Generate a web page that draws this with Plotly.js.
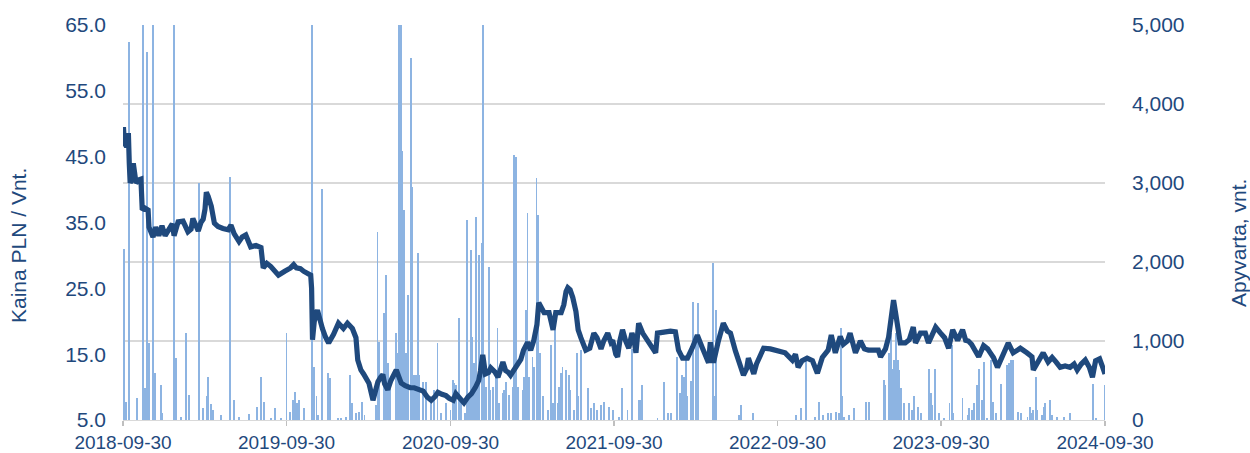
<!DOCTYPE html>
<html>
<head>
<meta charset="utf-8">
<script src="https://cdn.plot.ly/plotly-3.0.1.min.js"></script>
<style>
html,body{margin:0;padding:0;background:#fff;}
#chart{width:1250px;height:453px;}
</style>
</head>
<body>
<div id="chart"></div>
<script>
// ---- Price (left axis, PLN / Vnt.) ----
const priceDates = [
'2018-10-01','2018-10-03','2018-10-08','2018-10-12','2018-10-14','2018-10-16','2018-10-19','2018-10-23','2018-10-27','2018-10-29',
'2018-11-05','2018-11-09','2018-11-12','2018-11-18','2018-11-25','2018-11-27','2018-12-06','2018-12-12','2018-12-19','2018-12-26',
'2019-01-02','2019-01-11','2019-01-18','2019-01-22','2019-01-31','2019-02-11','2019-02-22','2019-03-01','2019-03-05','2019-03-12',
'2019-03-17','2019-03-23','2019-03-28','2019-04-01','2019-04-04','2019-04-08','2019-04-15','2019-04-22','2019-04-30','2019-05-11',
'2019-05-23','2019-05-29','2019-06-05','2019-06-16','2019-06-23','2019-07-01','2019-07-12','2019-07-24','2019-08-04','2019-08-09',
'2019-08-17','2019-08-26','2019-09-04','2019-09-12','2019-09-26','2019-10-09','2019-10-16','2019-10-22','2019-10-31','2019-11-07',
'2019-11-23','2019-11-25','2019-11-27','2019-12-01','2019-12-08','2019-12-12','2019-12-19','2019-12-26',
'2020-01-02','2020-01-13','2020-01-24','2020-02-04','2020-02-13','2020-02-24','2020-03-03','2020-03-07','2020-03-14','2020-03-20',
'2020-04-01','2020-04-10','2020-04-16','2020-04-21','2020-04-27','2020-05-02','2020-05-06','2020-05-13','2020-05-20','2020-05-26',
'2020-06-01','2020-06-07','2020-06-12','2020-06-21','2020-07-02','2020-07-11','2020-07-20','2020-07-31','2020-08-09','2020-08-18',
'2020-08-27','2020-09-02','2020-09-11','2020-09-20','2020-09-27','2020-10-06','2020-10-12','2020-10-21','2020-10-30','2020-11-08',
'2020-11-16','2020-11-25','2020-12-02','2020-12-06','2020-12-11','2020-12-17','2020-12-24','2020-12-29',
'2021-01-07','2021-01-14','2021-01-20','2021-01-25','2021-01-31','2021-02-05','2021-02-11','2021-02-18','2021-02-27','2021-03-06',
'2021-03-12','2021-03-21','2021-03-28','2021-04-04','2021-04-11','2021-04-15','2021-04-27','2021-05-08','2021-05-17','2021-05-23',
'2021-06-04','2021-06-10','2021-06-15','2021-06-19','2021-06-24','2021-06-30','2021-07-07','2021-07-12','2021-07-18','2021-07-25',
'2021-07-29','2021-08-07','2021-08-16','2021-08-23','2021-09-01','2021-09-07','2021-09-16','2021-09-23','2021-09-27','2021-10-04',
'2021-10-08','2021-10-13','2021-10-19','2021-10-26','2021-11-02','2021-11-09','2021-11-13','2021-11-18','2021-11-24','2021-12-03',
'2021-12-14','2021-12-23',
'2022-01-01','2022-01-05','2022-01-19','2022-02-03','2022-02-14','2022-02-21','2022-03-02','2022-03-13','2022-03-24','2022-04-04',
'2022-04-15','2022-04-29','2022-05-03','2022-05-10','2022-05-21','2022-06-01','2022-06-10','2022-06-17','2022-06-28','2022-07-09',
'2022-07-16','2022-07-23','2022-07-27','2022-08-03','2022-08-08','2022-08-14','2022-08-23','2022-08-30','2022-09-14','2022-09-30',
'2022-10-17','2022-11-02','2022-11-09','2022-11-15','2022-11-24','2022-12-05','2022-12-17','2022-12-28',
'2023-01-03','2023-01-08','2023-01-21','2023-01-28','2023-02-06','2023-02-17','2023-02-24','2023-03-05','2023-03-11','2023-03-23',
'2023-04-03','2023-04-12','2023-04-21','2023-04-30','2023-05-13','2023-05-18','2023-05-29','2023-06-05','2023-06-11','2023-06-16',
'2023-06-20','2023-06-25','2023-07-01','2023-07-12','2023-07-21','2023-07-30','2023-08-04','2023-08-15','2023-08-26','2023-09-02',
'2023-09-11','2023-09-18','2023-09-29','2023-10-08','2023-10-17','2023-10-26','2023-11-06','2023-11-17','2023-11-24','2023-11-30',
'2023-12-07','2023-12-16','2023-12-23',
'2024-01-03','2024-01-12','2024-01-18','2024-01-25','2024-02-03','2024-02-14','2024-02-27','2024-03-09','2024-03-25','2024-04-09',
'2024-04-20','2024-04-23','2024-05-04','2024-05-15','2024-05-26','2024-06-04','2024-06-13','2024-06-22','2024-07-03','2024-07-14',
'2024-07-23','2024-07-30','2024-08-08','2024-08-17','2024-08-26','2024-09-02','2024-09-09','2024-09-18','2024-09-25','2024-09-30'
];
const priceValues = [
49.5,47.1,46.5,48.6,44.0,41.0,41.5,44.0,42.0,41.0,
41.5,41.6,36.9,37.2,36.9,34.3,32.8,34.3,33.0,34.5,
33.0,34.0,34.8,33.0,35.1,35.2,33.6,34.0,35.6,34.5,
33.7,35.0,35.5,37.0,39.6,39.0,37.5,34.9,34.4,34.1,
33.9,34.6,33.3,32.1,32.8,33.1,31.3,31.5,31.2,28.1,
28.8,28.3,27.6,27.0,27.6,28.1,28.6,28.1,28.0,27.6,
27.0,25.0,17.2,20.0,21.7,20.5,18.9,17.6,
16.7,18.0,19.7,18.9,19.7,18.9,17.5,14.1,12.6,12.0,
10.6,8.0,9.5,10.8,11.5,11.9,10.5,9.6,11.0,12.0,
12.6,11.5,10.6,10.2,9.9,9.9,9.6,9.4,8.5,8.0,
8.6,9.2,8.9,8.7,8.3,8.0,9.0,8.2,7.6,8.5,
9.0,10.0,11.0,12.5,14.9,12.0,12.2,12.9,
12.3,11.5,12.8,13.8,12.5,12.3,11.8,12.5,13.4,14.2,
15.6,16.8,15.6,17.1,19.5,22.8,21.3,21.3,18.7,21.3,
21.3,22.5,24.5,25.1,24.8,23.6,21.5,18.7,17.5,16.0,
15.6,15.9,18.2,17.5,15.8,17.0,18.2,16.8,17.1,15.0,
14.6,17.0,18.7,17.0,15.9,18.2,17.5,15.2,19.7,18.2,
17.1,16.0,
15.2,18.2,18.4,18.5,18.4,15.6,14.4,14.4,16.0,17.9,
16.0,13.7,16.8,13.7,17.0,19.7,18.5,18.2,15.5,13.0,
11.8,12.8,14.4,13.0,12.0,13.5,14.9,15.9,15.8,15.6,
15.2,14.1,15.0,13.0,14.0,14.4,14.0,12.1,
13.5,14.5,15.6,17.9,15.2,17.7,16.5,17.0,18.2,15.2,
17.0,15.8,15.6,15.6,15.6,14.6,15.8,17.6,20.5,23.2,
21.5,18.7,16.7,16.7,17.2,19.1,16.7,18.2,18.2,16.7,
18.0,19.1,18.2,17.5,15.9,18.7,17.1,18.7,17.1,17.0,
16.5,15.6,14.6,
16.3,15.8,15.2,14.5,13.0,14.8,16.7,15.2,15.9,15.2,
14.6,12.6,14.0,15.2,13.8,14.5,13.8,13.0,13.2,13.0,
13.5,12.6,13.5,14.1,13.0,11.5,14.0,14.3,13.0,12.0
];

// ---- Turnover (right axis, vnt.) ----
const volumeDates = [
'2018-09-30','2018-10-02','2018-10-06','2018-10-14','2018-10-31','2018-11-13','2018-11-16','2018-11-18','2018-11-22','2018-11-23',
'2018-11-27','2018-12-06','2018-12-10','2018-12-23','2018-12-27',
'2019-01-21','2019-01-23','2019-01-26','2019-02-06','2019-02-17','2019-02-24','2019-03-18','2019-03-27','2019-04-05','2019-04-07',
'2019-04-14','2019-04-18','2019-05-07','2019-05-27','2019-05-28','2019-06-05','2019-06-16','2019-07-08','2019-07-27','2019-08-04',
'2019-08-10','2019-08-26','2019-09-04','2019-09-17','2019-09-30','2019-10-07','2019-10-14','2019-10-18','2019-10-24','2019-10-27',
'2019-11-08','2019-11-25','2019-11-27','2019-12-01','2019-12-06','2019-12-10','2019-12-17','2019-12-19',
'2020-01-01','2020-01-05','2020-01-23','2020-01-29','2020-02-10','2020-02-19','2020-02-23','2020-03-03','2020-03-09','2020-03-16',
'2020-03-22','2020-04-16','2020-04-20','2020-04-24','2020-05-04','2020-05-10','2020-05-14','2020-05-17','2020-05-31','2020-06-04',
'2020-06-07','2020-06-09','2020-06-11','2020-06-15','2020-06-19','2020-06-22','2020-06-28','2020-07-04','2020-07-06','2020-07-10',
'2020-07-15','2020-07-19','2020-07-22','2020-07-30','2020-08-06','2020-08-17','2020-08-25','2020-09-01','2020-09-08','2020-09-19',
'2020-09-30','2020-10-05','2020-10-08','2020-10-12','2020-10-19','2020-10-23','2020-11-01','2020-11-05','2020-11-10','2020-11-15',
'2020-11-18','2020-11-22','2020-11-26','2020-11-29','2020-12-03','2020-12-09','2020-12-12','2020-12-14','2020-12-18','2020-12-24',
'2020-12-27',
'2021-01-02','2021-01-09','2021-01-13','2021-01-16','2021-01-24','2021-01-28','2021-02-01','2021-02-08','2021-02-16','2021-02-19',
'2021-02-23','2021-02-27','2021-03-10','2021-03-13','2021-03-17','2021-03-21','2021-03-25','2021-04-01','2021-04-05','2021-04-10',
'2021-04-14','2021-04-18','2021-04-24','2021-05-05','2021-05-12','2021-05-16','2021-05-22','2021-05-27','2021-05-31','2021-06-03',
'2021-06-07','2021-06-14','2021-06-22','2021-06-25','2021-07-03','2021-07-09','2021-07-12','2021-07-18','2021-08-02','2021-08-09',
'2021-08-17','2021-08-24','2021-09-01','2021-09-08','2021-09-19','2021-09-27','2021-10-12','2021-10-17','2021-10-30','2021-11-10',
'2021-11-25','2021-11-29','2021-12-01',
'2022-01-05','2022-01-20','2022-01-28','2022-02-04','2022-02-18','2022-02-25','2022-03-01','2022-03-06','2022-03-10','2022-03-13',
'2022-03-21','2022-03-26','2022-04-01','2022-04-05','2022-05-08','2022-05-12','2022-05-16','2022-07-06','2022-07-10','2022-08-07',
'2022-11-10','2022-11-21','2022-12-02','2022-12-22',
'2023-01-01','2023-01-09','2023-01-20','2023-01-27','2023-02-07','2023-02-15','2023-02-18','2023-02-22','2023-02-26','2023-03-09',
'2023-03-20','2023-04-16','2023-04-23','2023-05-25','2023-05-29','2023-06-06','2023-06-10','2023-06-13','2023-06-17','2023-06-21',
'2023-06-25','2023-06-29','2023-07-02','2023-07-10','2023-07-21','2023-07-28','2023-08-01','2023-08-09','2023-08-16','2023-09-04',
'2023-09-07','2023-09-11','2023-09-17','2023-09-26','2023-10-07','2023-10-19','2023-10-24','2023-10-27','2023-11-17','2023-11-28',
'2023-12-02','2023-12-08','2023-12-13','2023-12-20','2023-12-24','2023-12-30',
'2024-01-04','2024-01-10','2024-01-20','2024-01-24','2024-01-30','2024-02-10','2024-02-25','2024-02-28','2024-03-04','2024-03-08',
'2024-03-19','2024-03-26','2024-04-10','2024-04-16','2024-04-19','2024-04-23','2024-04-28','2024-05-02','2024-05-13','2024-05-17',
'2024-05-20','2024-05-30','2024-06-04','2024-06-15','2024-06-30','2024-07-14','2024-09-04','2024-09-09','2024-09-29'
];
const volumeValues = [
800,2170,230,4790,275,7000,360,400,2000,4660,
970,7000,590,440,85,
7000,7000,780,40,1100,320,3000,150,300,550,
200,130,65,3080,210,250,40,80,170,550,
230,20,150,20,1100,100,250,360,210,250,
150,7000,7000,675,300,60,1100,2930,
590,530,20,20,40,570,210,85,105,230,
65,190,2385,990,1350,1835,720,420,1100,845,
7000,7000,7000,3400,2660,845,1580,4580,2950,570,
570,2110,570,485,485,210,380,970,85,210,
125,510,465,445,1290,250,85,2530,320,2150,
1055,720,2570,465,2090,2240,7000,630,420,1940,
380,
420,630,1160,210,340,380,485,320,420,3355,
3330,420,380,550,1390,2615,550,800,675,3060,
2595,845,300,125,950,210,1140,210,420,590,
675,630,570,380,125,845,300,885,400,150,
210,125,190,230,170,125,40,400,125,900,
250,250,440,
20,485,85,85,800,340,570,550,800,300,
500,1500,970,1480,1985,300,1390,65,190,85,
65,150,800,40,
230,65,85,85,105,85,1170,300,40,65,
150,230,230,505,445,845,1100,650,760,1100,
760,630,400,210,210,125,300,170,85,650,
340,190,650,85,20,210,950,85,275,65,
150,125,210,440,650,250,
740,20,760,230,85,460,700,720,760,760,
105,85,40,170,85,125,550,125,65,170,
210,250,65,40,40,85,460,20,445
];

const xTickVals = ['2018-09-30','2019-09-30','2020-09-30','2021-09-30','2022-09-30','2023-09-30','2024-09-30'];

const txtColor = '#1F497D';
const gridColor = '#D9D9D9';
const fontFam = '"Liberation Sans", Arial, sans-serif';
const DAY = 86400000;

const bars = {
  type: 'bar',
  x: volumeDates,
  y: volumeValues,
  width: volumeDates.map(() => 4.2 * DAY),
  marker: {color: '#8DB4E2', line: {width: 0}},
  xaxis: 'x', yaxis: 'y',
  hoverinfo: 'x+y',
  name: 'Apyvarta, vnt.'
};
const line = {
  type: 'scatter',
  mode: 'lines',
  x: priceDates,
  y: priceValues,
  line: {color: '#1F497D', width: 5.2},
  xaxis: 'x', yaxis: 'y2',
  name: 'Kaina PLN / Vnt.'
};

const layout = {
  width: 1250, height: 453,
  margin: {l: 123, r: 145, t: 25, b: 33, pad: 0},
  paper_bgcolor: '#ffffff', plot_bgcolor: '#ffffff',
  showlegend: false,
  bargap: 0,
  font: {family: fontFam, color: txtColor, size: 19},
  xaxis: {
    type: 'date',
    range: ['2018-09-30', '2024-09-30'],
    tickvals: xTickVals,
    ticktext: xTickVals,
    ticks: 'outside', ticklen: 5, tickcolor: '#BFBFBF', tickwidth: 1.3,
    showgrid: false, zeroline: false,
    showline: true, linecolor: gridColor, linewidth: 1.3,
    tickfont: {family: fontFam, size: 19, color: txtColor},
    ticklabelstandoff: 0
  },
  yaxis: {
    side: 'right',
    range: [0, 5000],
    tick0: 0, dtick: 1000,
    tickformat: ',d',
    showgrid: true, gridcolor: gridColor, gridwidth: 1.4,
    zeroline: false, showline: false, ticks: '',
    tickfont: {family: fontFam, size: 21, color: txtColor},
    ticklabelstandoff: 26
  },
  yaxis2: {
    overlaying: 'y',
    side: 'left',
    range: [5, 65],
    tick0: 5, dtick: 10,
    tickformat: '.1f',
    showgrid: false, zeroline: false, showline: false, ticks: '',
    tickfont: {family: fontFam, size: 21, color: txtColor},
    ticklabelstandoff: 16
  },
  annotations: [
    {text: 'Kaina PLN / Vnt.', xref: 'paper', yref: 'paper', x: (18 - 123) / 982, y: (420 - 246) / 395,
     xanchor: 'center', yanchor: 'middle', textangle: -90, showarrow: false,
     font: {family: fontFam, size: 21, color: txtColor}},
    {text: 'Apyvarta, vnt.', xref: 'paper', yref: 'paper', x: (1238 - 123) / 982, y: (420 - 243) / 395,
     xanchor: 'center', yanchor: 'middle', textangle: -90, showarrow: false,
     font: {family: fontFam, size: 21, color: txtColor}}
  ]
};

Plotly.newPlot('chart', [bars, line], layout, {displayModeBar: false, staticPlot: true});
</script>
</body>
</html>
